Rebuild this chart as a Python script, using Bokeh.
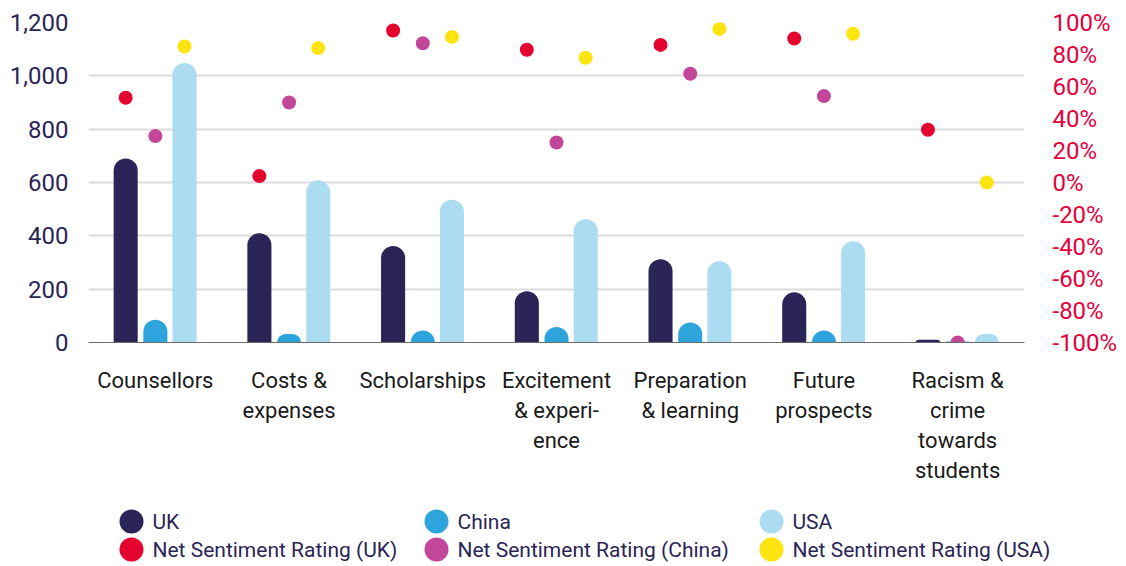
from bokeh.plotting import figure
from bokeh.models import Range1d, LinearAxis, FixedTicker, ColumnDataSource, Label
from bokeh.transform import dodge
from bokeh.layouts import column
from bokeh.core.properties import value
from bokeh.embed import file_html
from bokeh.resources import INLINE

categories = ["Counsellors", "Costs &\nexpenses", "Scholarships", "Excitement\n& experi-\nence",
              "Preparation\n& learning", "Future\nprospects", "Racism &\ncrime\ntowards\nstudents"]

uk = [690, 410, 362, 192, 312, 188, 10]
china = [85, 32, 45, 58, 75, 45, 4]
usa = [1048, 608, 535, 462, 305, 380, 32]

nsr_uk = [53, 4, 95, 83, 86, 90, 33]
nsr_china = [29, 50, 87, 25, 68, 54, -100]
nsr_usa = [85, 84, 91, 78, 96, 93, 0]

left_ticks = [0, 200, 400, 600, 800, 1000, 1200]
right_ticks = [-100, -80, -60, -40, -20, 0, 20, 40, 60, 80, 100]

series_names = ["UK", "China", "USA", "Net Sentiment Rating (UK)",
                "Net Sentiment Rating (China)", "Net Sentiment Rating (USA)"]
colors = ["#2a2457", "#2ea4dd", "#acdcf1", "#e4032e", "#c2479a", "#fde30f"]

FONT = "Roboto"

src = ColumnDataSource(dict(cat=categories, uk=uk, china=china, usa=usa,
                            nuk=nsr_uk, nch=nsr_china, nus=nsr_usa))

p = figure(x_range=categories, y_range=Range1d(0, 1200),
           width=1120, height=485,
           min_border_left=88, min_border_right=94, min_border_top=22, min_border_bottom=138,
           output_backend="svg", toolbar_location=None, outline_line_color=None)
p.extra_y_ranges = {"pct": Range1d(-100, 100)}

offs = [-0.222, 0.0, 0.218]
bw = 0.18
for key, off, c in zip(["uk", "china", "usa"], offs, colors[:3]):
    p.vbar(x=dodge("cat", off, range=p.x_range), top=key, width=bw, bottom=0,
           source=src, fill_color=c, line_color=None, border_radius=(12, 12, 0, 0))

for key, off, c in zip(["nuk", "nch", "nus"], offs, colors[3:]):
    p.scatter(x=dodge("cat", off, range=p.x_range), y=key, y_range_name="pct",
              source=src, size=14, fill_color=c, line_color=None)

# axes
p.xaxis.major_label_text_font = FONT
p.xaxis.major_label_text_font_size = "22px"
p.xaxis.major_label_text_color = "#1a1a1a"
p.xaxis.major_label_text_line_height = 1.2
p.xaxis.major_label_standoff = 19
p.xaxis.axis_line_color = "#6b6b6b"
p.xaxis.axis_line_width = 1.2
p.xaxis.major_tick_line_color = None
p.xaxis.minor_tick_line_color = None

p.yaxis.ticker = FixedTicker(ticks=left_ticks)
p.yaxis.major_label_overrides = {t: f"{t:,}" for t in left_ticks}
p.yaxis.major_label_text_font = FONT
p.yaxis.major_label_text_font_size = "24px"
p.yaxis.major_label_text_color = "#2b2556"
p.yaxis.axis_line_color = None
p.yaxis.major_tick_line_color = None
p.yaxis.minor_tick_line_color = None
p.yaxis.major_label_standoff = 14

ax_r = LinearAxis(y_range_name="pct", ticker=FixedTicker(ticks=right_ticks))
ax_r.major_label_overrides = {t: f"{t}%" for t in right_ticks}
ax_r.major_label_text_font = FONT
ax_r.major_label_text_font_size = "24px"
ax_r.major_label_text_color = "#e4003b"
ax_r.axis_line_color = None
ax_r.major_tick_line_color = None
ax_r.minor_tick_line_color = None
ax_r.major_label_standoff = 22
p.add_layout(ax_r, "right")

p.xgrid.grid_line_color = None
p.ygrid.ticker = FixedTicker(ticks=left_ticks)
p.ygrid.grid_line_color = "#dcdcdc"
p.ygrid.grid_line_width = 2

# legend (separate strip below the chart)
leg_x = [131, 131, 436, 436, 771, 771]
leg_y = [36, 64, 36, 64, 36, 64]
order = [0, 3, 1, 4, 2, 5]
lsrc = ColumnDataSource(dict(x=leg_x, y=leg_y,
                             color=[colors[i] for i in order]))
lg = figure(width=1120, height=80, x_range=Range1d(88, 1120), y_range=Range1d(80, 0),
            min_border_left=88, min_border_right=0, min_border_top=0, min_border_bottom=0,
            output_backend="svg", toolbar_location=None, outline_line_color=None)
lg.axis.visible = False
lg.grid.visible = False
lg.scatter(x="x", y="y", size=24, fill_color="color", line_color=None, source=lsrc)
for x, y, i in zip(leg_x, leg_y, order):
    lg.add_layout(Label(x=x + 21, y=y, text=series_names[i], text_font=FONT,
                        text_font_size="21px", text_color="#2b2556",
                        text_baseline="middle"))

layout = column(p, column(lg, spacing=0), spacing=0)
open("out.html", "w").write(file_html(layout, INLINE))
